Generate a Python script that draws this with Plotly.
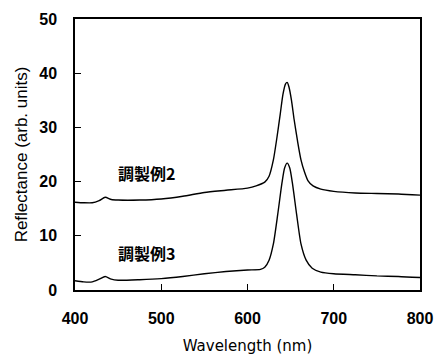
import plotly.graph_objects as go

wl2 = [400, 410, 420, 428, 435, 442, 450, 475, 500, 525, 550, 575, 600, 610, 620, 625, 630, 634, 638, 641, 644, 646, 648, 651, 654, 658, 662, 666, 670, 676, 685, 700, 725, 750, 775, 800]
r2 = [16.2, 16.1, 16.1, 16.5, 17.1, 16.7, 16.6, 16.6, 16.8, 17.3, 18.0, 18.4, 18.8, 19.2, 19.9, 21.0, 24.0, 28.0, 32.5, 36.0, 38.0, 38.3, 37.5, 35.0, 31.5, 27.5, 24.0, 21.8, 20.2, 19.2, 18.6, 18.2, 17.9, 17.8, 17.7, 17.5]

wl3 = [400, 410, 420, 428, 435, 442, 450, 475, 500, 525, 550, 575, 600, 615, 620, 625, 630, 635, 640, 643, 646, 649, 652, 657, 662, 668, 675, 685, 700, 725, 750, 775, 800]
r3 = [1.7, 1.5, 1.5, 2.0, 2.5, 2.0, 1.8, 1.9, 2.1, 2.5, 3.0, 3.4, 3.7, 3.8, 4.2, 5.5, 8.5, 13.9, 19.8, 22.5, 23.4, 22.5, 19.8, 13.9, 8.5, 5.5, 4.0, 3.3, 3.0, 2.8, 2.6, 2.5, 2.3]

labels = ["調製例2", "調製例3"]
label_x = [483, 483]
label_y = [21.6, 6.8]

tick_font = "Liberation Sans, Arial, sans-serif"

fig = go.Figure()
for wl, r in [(wl2, r2), (wl3, r3)]:
    fig.add_trace(go.Scatter(x=wl, y=r, mode="lines", line=dict(color="black", width=1.4, shape="spline", smoothing=0.6), showlegend=False))

for t, x, y in zip(labels, label_x, label_y):
    fig.add_annotation(x=x, y=y, text="<b>" + t + "</b>", showarrow=False,
                       font=dict(family="Noto Sans CJK JP, Liberation Sans", size=16, color="black"))

axis_common = dict(showline=True, linecolor="black", linewidth=1.5, mirror=True, ticks="inside",
                   ticklen=6, tickwidth=1, tickcolor="black", showgrid=False, zeroline=False,
                   tickfont=dict(family=tick_font, size=16, color="black", weight="bold"))

fig.update_xaxes(range=[400, 800], tickvals=[400, 500, 600, 700, 800], ticklabelstandoff=13,
                 title=dict(text="Wavelength (nm)", font=dict(family="DejaVu Sans", size=15, color="black"), standoff=15),
                 **axis_common)
fig.update_yaxes(range=[0, 50], tickvals=[0, 10, 20, 30, 40, 50], ticklabelstandoff=13,
                 title=dict(text="Reflectance (arb. units)", font=dict(family=tick_font, size=17, color="black"), standoff=7),
                 **axis_common)

fig.update_layout(width=444, height=363, margin=dict(l=75, r=16, t=11, b=72),
                  plot_bgcolor="white", paper_bgcolor="white")

fig.write_html("out.html")
